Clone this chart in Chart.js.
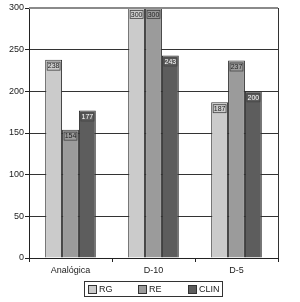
<!DOCTYPE html>
<html>
<head>
<meta charset="utf-8">
<script src="https://cdn.jsdelivr.net/npm/chart.js@4"></script>
<style>
  html, body { margin: 0; padding: 0; background: #fff; }
  #wrap { position: relative; width: 300px; height: 302px; }
  #legend {
    position: absolute; left: 84px; top: 281px; width: 137px; height: 14px;
    border: 1px solid #333; display: flex; align-items: center;
    font: 9px "Liberation Sans", Arial, sans-serif; color: #222;
  }
  .lg-item { display: flex; align-items: center; width: 50px; padding-left: 3px; box-sizing: border-box; }
  .lg-item:last-child { width: 37px; }
  .lg-box { width: 7px; height: 7px; border: 1px solid #333; margin-right: 2px; }
</style>
</head>
<body>
<div id="wrap">
  <canvas id="chart" width="300" height="302"></canvas>
  <div id="legend"></div>
</div>
<script>
/* ── DATA ───────────────────────────────────────── */
const categories = ["Analógica", "D-10", "D-5"];
const seriesNames = ["RG", "RE", "CLIN"];
const rgValues = [238, 300, 187];
const reValues = [154, 300, 237];
const clinValues = [177, 243, 200];
const yTicks = [0, 50, 100, 150, 200, 250, 300];

const fills = ["#cbcbcb", "#9b9b9b", "#5d5d5d"];
const labelText = ["#222", "#222", "#fff"];
const FONT = "'Liberation Sans', Arial, sans-serif";

/* ── PLUGINS ────────────────────────────────────── */
// frame: gray top line + right border
const framePlugin = {
  id: "frame",
  afterDatasetsDraw(chart) {
    const { ctx, chartArea: a } = chart;
    ctx.save();
    ctx.strokeStyle = "#8a8a8a";
    ctx.lineWidth = 2;
    ctx.beginPath();
    ctx.moveTo(a.left, a.top);
    ctx.lineTo(a.right, a.top);
    ctx.stroke();
    ctx.strokeStyle = "#333";
    ctx.lineWidth = 1;
    ctx.beginPath();
    ctx.moveTo(a.right + 0.5, a.top);
    ctx.lineTo(a.right + 0.5, a.bottom);
    ctx.stroke();
    ctx.restore();
  },
};

// value boxes just inside the top of each bar
const valueLabels = {
  id: "valueLabels",
  afterDatasetsDraw(chart) {
    const { ctx } = chart;
    ctx.save();
    ctx.font = "7px " + FONT;
    ctx.textAlign = "center";
    ctx.textBaseline = "middle";
    chart.data.datasets.forEach((ds, di) => {
      chart.getDatasetMeta(di).data.forEach((bar, i) => {
        const w = bar.width - 3;
        const x = bar.x - w / 2;
        const y = bar.y + 2;
        ctx.fillStyle = fills[di];
        ctx.fillRect(x, y, w, 8);
        ctx.strokeStyle = "#444";
        ctx.lineWidth = 0.8;
        ctx.strokeRect(x + 0.5, y + 0.5, w - 1, 8);
        ctx.fillStyle = labelText[di];
        ctx.fillText(String(ds.data[i]), bar.x, y + 4.8);
      });
    });
    ctx.restore();
  },
};

/* ── CHART ──────────────────────────────────────── */
const ctx = document.getElementById("chart").getContext("2d");

new Chart(ctx, {
  type: "bar",
  data: {
    labels: categories,
    datasets: [rgValues, reValues, clinValues].map((vals, i) => ({
      label: seriesNames[i],
      data: vals,
      backgroundColor: fills[i],
      borderColor: "#333",
      borderWidth: 1,
      categoryPercentage: 0.61,
      barPercentage: 1,
    })),
  },
  options: {
    responsive: false,
    animation: false,
    layout: { padding: { left: 0, top: 8, right: 22, bottom: 23 } },
    plugins: { legend: { display: false }, tooltip: { enabled: false } },
    scales: {
      x: {
        grid: {
          drawOnChartArea: false,
          drawTicks: true,
          tickLength: 4,
          tickColor: "#222",
        },
        border: { color: "#222", width: 1 },
        ticks: { color: "#222", font: { family: FONT, size: 9 }, padding: 3 },
        afterFit: (s) => { s.height = 21; },
      },
      y: {
        min: 0,
        max: 300,
        afterBuildTicks: (s) => { s.ticks = yTicks.map((v) => ({ value: v })); },
        grid: {
          color: (c) => (c.tick && (c.tick.value === 0 || c.tick.value === 300) ? "transparent" : "#333"),
          borderDash: [2, 1],
          lineWidth: 1,
          tickLength: 4,
          tickColor: "#222",
          tickBorderDash: [],
        },
        border: { color: "#222", width: 1 },
        ticks: { color: "#222", font: { family: FONT, size: 9 }, padding: 1 },
        afterFit: (s) => { s.width = 29; },
      },
    },
  },
  plugins: [framePlugin, valueLabels],
});

/* ── LEGEND ─────────────────────────────────────── */
const legendEl = document.getElementById("legend");
seriesNames.forEach((name, i) => {
  const item = document.createElement("div");
  item.className = "lg-item";
  item.innerHTML = `<span class="lg-box" style="background:${fills[i]}"></span><span>${name}</span>`;
  legendEl.appendChild(item);
});
</script>
</body>
</html>
